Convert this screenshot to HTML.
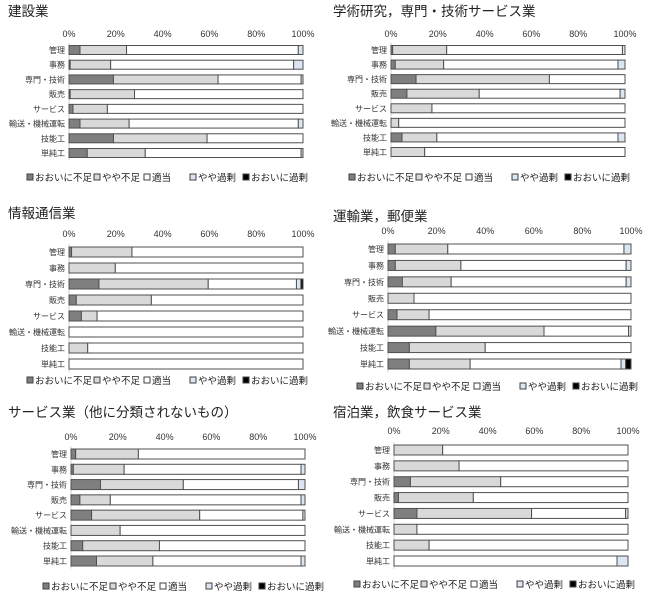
<!DOCTYPE html>
<html><head><meta charset="utf-8"><style>
html,body{margin:0;padding:0;background:#fff;}
svg{display:block;font-family:"Liberation Sans","Noto Sans CJK JP",sans-serif;}
</style></head><body>
<svg id="c" width="650" height="595" viewBox="0 0 650 595"></svg>
<script>
const categories = ["管理","事務","専門・技術","販売","サービス","輸送・機械運転","技能工","単純工"];
const seriesNames = ["おおいに不足","やや不足","適当","やや過剰","おおいに過剰"];
const tickLabels = ["0%","20%","40%","60%","80%","100%"];
const tickValues = [0,20,40,60,80,100];
const panelTitles = ["建設業","学術研究，専門・技術サービス業","情報通信業","運輸業，郵便業","サービス業（他に分類されないもの）","宿泊業，飲食サービス業"];
const p1 = [[4.7,24.6,98,100],[0.5,17.8,96,100],[19,63.7,99.2,100],[0.5,28,100,100],[1.7,16.4,100,100],[4.7,25.7,98,100],[19,59,100,100],[7.8,32.6,99.2,100]];
const p2 = [[0.7,23.8,98.9,100],[1.8,22.5,97,100],[10.7,67.7,100,100],[6.8,37.7,97.9,100],[0,17.5,100,100],[0,3.3,100,100],[4.7,19.6,97,100],[0,14.4,100,100]];
const p3 = [[1.1,26.9,100,100],[0,19.8,100,100],[12.8,59.5,97.2,99.1],[3.1,35.2,100,100],[5.3,12,100,100],[0,0,100,100],[0,8,100,100],[0,0,100,100]];
const p4 = [[3,24.6,97.1,100],[3,30,98,100],[5.9,26,98,100],[0,10.7,100,100],[3.7,16.9,100,100],[19.7,64.2,99,100],[8.8,40,100,100],[8.8,33.8,95.9,97.8]];
const p5 = [[2,28.8,100,100],[1,22.7,98.3,100],[12.6,48,97.2,100],[3.8,16.8,98.3,100],[8.8,55,99.1,100],[0,21,100,100],[5,37.8,100,100],[10.9,35,98.3,100]];
const p6 = [[0,20.8,100,100],[0,27.8,100,100],[7,45.6,100,100],[1.9,33.9,100,100],[9.8,58.8,99,100],[0,9.8,100,100],[0,15,100,100],[0,0,95.3,100]];
const panelData = [p1,p2,p3,p4,p5,p6];

const layouts = [
 {x0:69,x1:303,titleX:8,titleY:16,tickY:37,barY0:50,barY1:153,barH:9,legX:27,legY:181},
 {x0:391,x1:625,titleX:333,titleY:16,tickY:37,barY0:50,barY1:152,barH:9,legX:349,legY:181},
 {x0:69,x1:303,titleX:8,titleY:218,tickY:237,barY0:252,barY1:364,barH:10,legX:27,legY:384},
 {x0:388,x1:631,titleX:333,titleY:221,tickY:234,barY0:249,barY1:364,barH:10,legX:357,legY:390},
 {x0:71,x1:305,titleX:8,titleY:417,tickY:440,barY0:454,barY1:561,barH:10,legX:43,legY:590},
 {x0:394,x1:628,titleX:333,titleY:417,tickY:434,barY0:450,barY1:561,barH:10,legX:354,legY:588}
];
const fills = ["#7f7f7f","#d9d9d9","#ffffff","#dce6f2","#000000"];
const legOff = [0,67,117,163,216];
const NS="http://www.w3.org/2000/svg";
const svg=document.getElementById('c');
function mk(tag,attrs,parent){const e=document.createElementNS(NS,tag);for(const k in attrs)e.setAttribute(k,attrs[k]);(parent||svg).appendChild(e);return e;}

panelData.forEach((data,pi)=>{
  const L=layouts[pi];
  const g=mk('g',{});
  
  
  const xs=v=>L.x0+(L.x1-L.x0)*v/100;
  const step=(L.barY1-L.barY0)/(categories.length-1);
  const ys=i=>L.barY0+i*step;
  const t=mk('text',{x:L.titleX,y:L.titleY,'font-size':13.5,fill:'#222'},g);
  t.textContent=panelTitles[pi];
  
  
  tickValues.forEach((v,i)=>{
    const tt=mk('text',{x:xs(v),y:L.tickY,'font-size':9,'text-anchor':'middle',fill:'#333'},g);
    tt.textContent=tickLabels[i];
    
    
  });
  const ax=mk('line',{x1:L.x0,x2:L.x0,y1:ys(0)-step/2,y2:ys(categories.length-1)+step/2,stroke:'#d0d0d0','stroke-width':1},g);
  
  
  data.forEach((row,ci)=>{
    const cy=ys(ci);
    const lb=mk('text',{x:L.x0-4,y:cy+3,'font-size':8,'text-anchor':'end',fill:'#333'},g);
    lb.textContent=categories[ci];
    
    
    const bounds=[0].concat(row).concat([100]);
    for(let s=0;s<5;s++){
      const a=bounds[s],b=bounds[s+1];
      if(b-a<=0.05)continue;
      const r=mk('rect',{x:xs(a),y:cy-L.barH/2,width:xs(b)-xs(a),height:L.barH,fill:fills[s],stroke:'#505050','stroke-width':1},g);
      
      
    }
  });
  seriesNames.forEach((n,si)=>{
    const lx=L.legX+legOff[si];
    const sq=mk('rect',{x:lx,y:L.legY-7,width:6,height:6,fill:fills[si],stroke:'#404040','stroke-width':1},g);
    
    
    const lt=mk('text',{x:lx+8,y:L.legY,'font-size':9.5,fill:'#222'},g);
    lt.textContent=n;
    
    
  });
});
</script>
</body></html>
